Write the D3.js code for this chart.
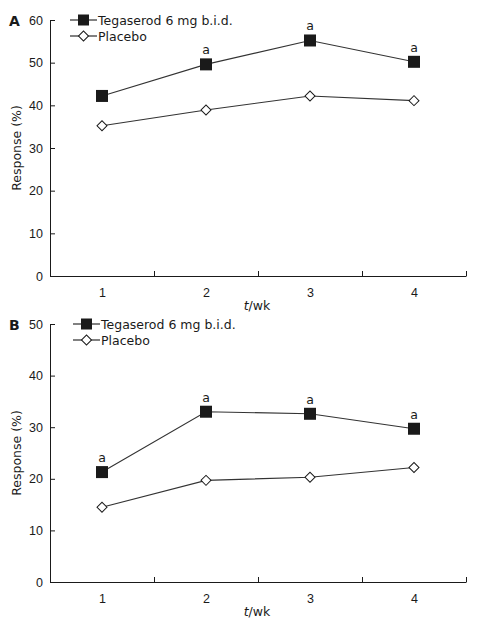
<!DOCTYPE html>
<html><head><meta charset="utf-8">
<script src="https://cdn.jsdelivr.net/npm/d3@7"></script>
<style>
body{margin:0;background:#fff;}
svg{display:block;font-family:Tahoma,"DejaVu Sans",Verdana,sans-serif;}
</style></head>
<body><svg id="c" width="482" height="626"></svg>
<script>
const weeks = [1, 2, 3, 4];
const seriesNames = ["Tegaserod 6 mg b.i.d.", "Placebo"];
const aTegaserod = [42.2, 49.6, 55.2, 50.2];
const aPlacebo = [35.2, 38.9, 42.2, 41.1];
const aSig = [false, true, true, true];
const aTicks = [0, 10, 20, 30, 40, 50, 60];
const bTegaserod = [21.3, 33.0, 32.6, 29.7];
const bPlacebo = [14.5, 19.7, 20.3, 22.2];
const bSig = [true, true, true, true];
const bTicks = [0, 10, 20, 30, 40, 50];
const yTitle = "Response (%)";

const svg = d3.select("#c");
const ink = "#1a1a1a", lineCol = "#333";

function panel(cfg){
  const g = svg.append("g");
  const x = d3.scaleLinear().domain([0.5, 4.5]).range([50, 466]);
  const y = d3.scaleLinear().domain([0, cfg.ymax]).range([cfg.y0, cfg.y1]);
  // y axis
  const ya = g.append("g").attr("transform","translate(50,0)")
    .call(d3.axisLeft(y).tickValues(cfg.ticks).tickSize(-5).tickPadding(7).tickSizeOuter(0));
  ya.select(".domain").attr("stroke", ink);
  ya.selectAll(".tick line").attr("stroke", ink);
  ya.selectAll("text").attr("font-size", 12.5).attr("fill", ink);
  // x axis
  const xa = g.append("g").attr("transform",`translate(0,${cfg.y0})`)
    .call(d3.axisBottom(x).tickValues([1.5,2.5,3.5,4.5]).tickSize(-5).tickFormat("").tickSizeOuter(0));
  xa.select(".domain").attr("stroke", ink);
  xa.selectAll(".tick line").attr("stroke", ink);
  const xl = g.append("g").attr("transform",`translate(0,${cfg.y0})`)
    .call(d3.axisBottom(x).tickValues(weeks).tickSize(0).tickPadding(12).tickFormat(d3.format("d")));
  xl.select(".domain").remove();
  xl.selectAll("text").attr("font-size", 12.5).attr("fill", ink);
  // axis titles
  const xt = g.append("text").attr("x", 257).attr("y", cfg.y0 + 34).attr("text-anchor","middle")
    .attr("font-size", 12.5).attr("fill", ink);
  xt.append("tspan").attr("font-style","italic").text("t");
  xt.append("tspan").text("/wk");
  g.append("text").attr("transform",`translate(21,${(cfg.y0+cfg.y1)/2}) rotate(-90)`)
    .attr("text-anchor","middle").attr("font-size", 12.5).attr("fill", ink).text(yTitle);
  // panel label
  g.append("text").attr("x", 9).attr("y", cfg.y1 + 6).attr("font-size", 14).attr("font-weight","bold")
    .attr("fill", ink).text(cfg.label);
  // lines
  const line = d3.line().x((d,i)=>x(weeks[i])).y(d=>y(d));
  g.append("path").attr("d", line(cfg.plac)).attr("fill","none").attr("stroke",lineCol).attr("stroke-width",1.1);
  g.append("path").attr("d", line(cfg.teg)).attr("fill","none").attr("stroke",lineCol).attr("stroke-width",1.1);
  // markers
  g.selectAll(".pd").data(cfg.plac).join("path")
    .attr("d", d3.symbol().type(d3.symbolSquare).size(50))
    .attr("transform",(d,i)=>`translate(${x(weeks[i])},${y(d)}) rotate(45)`)
    .attr("fill","#fff").attr("stroke",ink).attr("stroke-width",1);
  g.selectAll(".ts").data(cfg.teg).join("rect")
    .attr("x",(d,i)=>x(weeks[i])-6).attr("y",d=>y(d)-6).attr("width",12).attr("height",12)
    .attr("fill",ink);
  // significance marks
  g.selectAll(".sig").data(cfg.teg.map((v,i)=>({v,i})).filter(d=>cfg.sig[d.i])).join("text")
    .attr("x",d=>x(weeks[d.i])).attr("y",d=>y(d.v)-10).attr("text-anchor","middle")
    .attr("font-size",12.5).attr("fill",ink).text("a");
  // legend
  const lx = cfg.legX, ly = cfg.y1;
  const lg = g.append("g");
  [0,1].forEach(k=>{
    const yy = ly + k*16;
    lg.append("line").attr("x1",lx).attr("x2",lx+27).attr("y1",yy).attr("y2",yy).attr("stroke",ink).attr("stroke-width",1.1);
    if(k===0){
      lg.append("rect").attr("x",lx+8).attr("y",yy-5.5).attr("width",11).attr("height",11).attr("fill",ink);
    } else {
      lg.append("path").attr("d", d3.symbol().type(d3.symbolSquare).size(50)())
        .attr("transform",`translate(${lx+13.5},${yy}) rotate(45)`).attr("fill","#fff").attr("stroke",ink);
    }
    lg.append("text").attr("x",lx+28).attr("y",yy+4.5).attr("font-size",12.5).attr("fill",ink).text(seriesNames[k]);
  });
}

panel({label:"A", y0:276, y1:20, ymax:60, ticks:aTicks, teg:aTegaserod, plac:aPlacebo, sig:aSig, legX:70});
panel({label:"B", y0:582, y1:324, ymax:50, ticks:bTicks, teg:bTegaserod, plac:bPlacebo, sig:bSig, legX:73});
</script></body></html>
